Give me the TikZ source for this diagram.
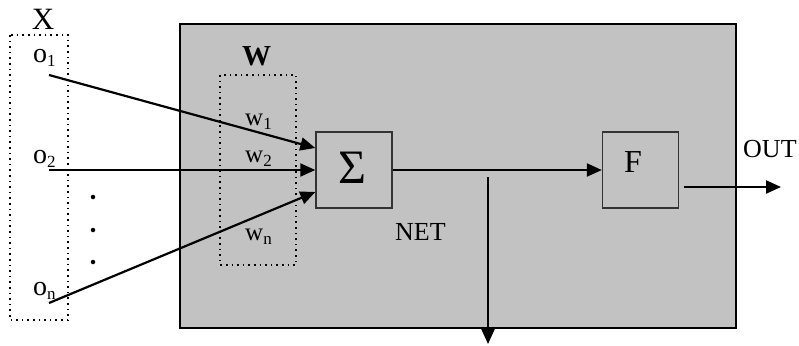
\documentclass[tikz,border=0pt]{standalone}
\usepackage{fontspec}
\setmainfont{Liberation Serif}
\usetikzlibrary{arrows.meta}
\newcommand\lowsub[1]{\raisebox{-4pt}{\fontsize{17}{17}\selectfont #1}}
\begin{document}
\begin{tikzpicture}[x=1pt,y=-1pt,
  lbl/.style={inner sep=0pt, anchor=base west, font=\fontsize{26}{26}\selectfont},
  olbl/.style={inner sep=0pt, anchor=base west, font=\fontsize{28}{28}\selectfont},
  arr/.style={line width=2.2pt, -{Triangle[length=15pt,width=13pt]}},
  dotbox/.style={draw=black, line width=1.6pt, dash pattern=on 1.6pt off 4pt},
  cellbox/.style={draw=black, fill=black!24, line width=2.2pt, inner sep=0pt, minimum width=556pt, minimum height=304pt},
  unitbox/.style={draw=black!80, fill=black!24, line width=1.4pt, minimum size=76pt, inner sep=0pt},
  dotmark/.style={fill=black, circle, inner sep=0pt, minimum size=4.5pt}]
\useasboundingbox (0,0) rectangle (799,345);
% neuron body
\node[cellbox] (cell) at (458,176) {};
% input and weight groups
\draw[dotbox] (10,35) rectangle (68,320);
\draw[dotbox] (220,75) rectangle (296,265);
\node[inner sep=0pt, font=\fontsize{31}{31}\selectfont] (xl) at (43,19) {X};
\node[lbl, font=\fontsize{29}{29}\selectfont\bfseries] (wl) at (242,66) {W};
% inputs
\node[olbl] (o1) at (33,63) {o\lowsub{1}};
\node[olbl] (o2) at (33,163) {o\lowsub{2}};
\node[olbl] (on) at (33,295) {o\lowsub{n}};
\node[dotmark] (d1) at (93,197) {};
\node[dotmark] (d2) at (93,230) {};
\node[dotmark] (d3) at (93,262) {};
% weights
\node[lbl, font=\fontsize{25}{25}\selectfont] (w1) at (245,125) {w\lowsub{1}};
\node[lbl, font=\fontsize{25}{25}\selectfont] (w2) at (245,162) {w\lowsub{2}};
\node[lbl, font=\fontsize{25}{25}\selectfont] (wn) at (245,240) {w\lowsub{n}};
% units
\node[unitbox] (sig) at (354,170) {};
\node[inner sep=0pt, font=\fontsize{48}{48}\selectfont] (sigt) at (352,168) {Σ};
\node[unitbox] (f) at (640.5,170) {};
\node[inner sep=0pt, font=\fontsize{32}{32}\selectfont] (ft) at (633,162) {F};
\node[lbl] (net) at (395,240) {NET};
\node[lbl] (out) at (743,157) {OUT};
% connectors
\coordinate (s1) at (49,75);
\coordinate (s2) at (49,170);
\coordinate (sn) at (49,303);
\draw[arr] (s1) -- ([yshift=22pt]sig.west);
\draw[arr] (s2) -- (sig.west);
\draw[arr] (sn) -- ([yshift=-22pt]sig.west);
\draw[arr] (sig.east) -- (f.west);
\coordinate (nets) at (488,177);
\coordinate (nete) at (488,344);
\draw[arr] (nets) -- (nete);
\coordinate (outs) at (684,187);
\coordinate (oute) at (781,187);
\draw[arr] (outs) -- (oute);
\end{tikzpicture}
\end{document}
